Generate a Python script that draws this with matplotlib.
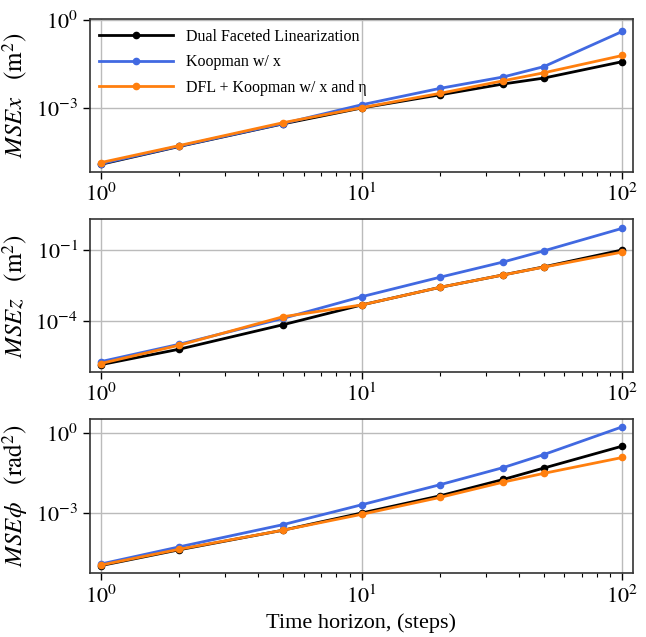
import numpy as np
import matplotlib
matplotlib.use("Agg")
import matplotlib.pyplot as plt
from matplotlib.ticker import LogLocator, NullLocator, FixedLocator

plt.rcParams['font.family'] = ['Liberation Serif', 'DejaVu Serif']
plt.rcParams['mathtext.fontset'] = 'stix'
plt.rcParams['axes.unicode_minus'] = False

horizon = [1, 2, 5, 10, 20, 35, 50, 100]

# log10 of MSE
x_dfl = [-4.92, -4.31, -3.54, -3.00, -2.55, -2.18, -1.98, -1.42]
x_koop = [-4.90, -4.30, -3.53, -2.89, -2.33, -1.94, -1.59, -0.39]
x_both = [-4.86, -4.28, -3.50, -2.99, -2.50, -2.07, -1.80, -1.21]

z_dfl = [-5.86, -5.20, -4.16, -3.32, -2.57, -2.04, -1.70, -0.98]
z_koop = [-5.73, -4.99, -3.89, -2.97, -2.14, -1.49, -1.02, -0.06]
z_both = [-5.81, -5.03, -3.82, -3.32, -2.57, -2.04, -1.71, -1.07]

p_dfl = [-5.00, -4.40, -3.66, -3.01, -2.36, -1.74, -1.31, -0.48]
p_koop = [-4.94, -4.29, -3.45, -2.70, -1.94, -1.29, -0.80, 0.25]
p_both = [-4.98, -4.38, -3.66, -3.06, -2.42, -1.84, -1.51, -0.91]

labels = ["Dual Faceted Linearization", "Koopman w/ x", "DFL + Koopman w/ x and η"]
colors = ["black", "#4169E1", "#FF7F0E"]

ylabels = [r"$MSEx\ \ \ (\mathrm{m}^2)$", r"$MSEz\ \ \ (\mathrm{m}^2)$", r"$MSE\phi\ \ \ (\mathrm{rad}^2)$"]
yticks = [[-3, 0], [-4, -1], [-3, 0]]
ylims = [(-5.18, 0.03), (-6.17, 0.33), (-5.29, 0.54)]
data = [(x_dfl, x_koop, x_both), (z_dfl, z_koop, z_both), (p_dfl, p_koop, p_both)]

fig = plt.figure(figsize=(6.46, 6.37), dpi=100)
boxes = [(0.970, 0.730), (0.656, 0.416), (0.342, 0.100)]
left, right = 0.139, 0.980

for i, (top, bot) in enumerate(boxes):
    ax = fig.add_axes([left, bot, right - left, top - bot])
    for series, lab, c in zip(data[i], labels, colors):
        ax.plot(horizon, [10 ** v for v in series], '-o', color=c, lw=2.0, ms=4.5, label=lab)
    ax.set_xscale('log')
    ax.set_yscale('log')
    ax.set_xlim(0.908, 110)
    ax.set_ylim(10 ** ylims[i][0], 10 ** ylims[i][1])
    ax.yaxis.set_major_locator(FixedLocator([10.0 ** t for t in yticks[i]]))
    ax.yaxis.set_minor_locator(NullLocator())
    ax.set_yticklabels([r"$10^{%d}$" % t for t in yticks[i]])
    ax.xaxis.set_major_locator(FixedLocator([1, 10, 100]))
    ax.set_xticklabels([r"$10^{0}$", r"$10^{1}$", r"$10^{2}$"])
    ax.xaxis.set_minor_locator(LogLocator(base=10, subs=np.arange(2, 10)))
    ax.grid(True, which='major', color='#bbbbbb', lw=1.0)
    ax.tick_params(axis='both', which='major', labelsize=16, length=5, width=1, direction='out')
    ax.tick_params(axis='x', which='minor', length=3, width=0.8)
    ax.set_ylabel(ylabels[i], fontsize=18, labelpad=4)
    for s in ax.spines.values():
        s.set_color('#333333')
        s.set_linewidth(1.2)
    if i == 0:
        ax.legend(loc='upper left', frameon=False, fontsize=11.5, handlelength=4.6,
                  borderaxespad=0.2, labelspacing=0.6)
    if i == 2:
        ax.set_xlabel("Time horizon, (steps)", fontsize=16)

fig.savefig("out.png", dpi=100)
